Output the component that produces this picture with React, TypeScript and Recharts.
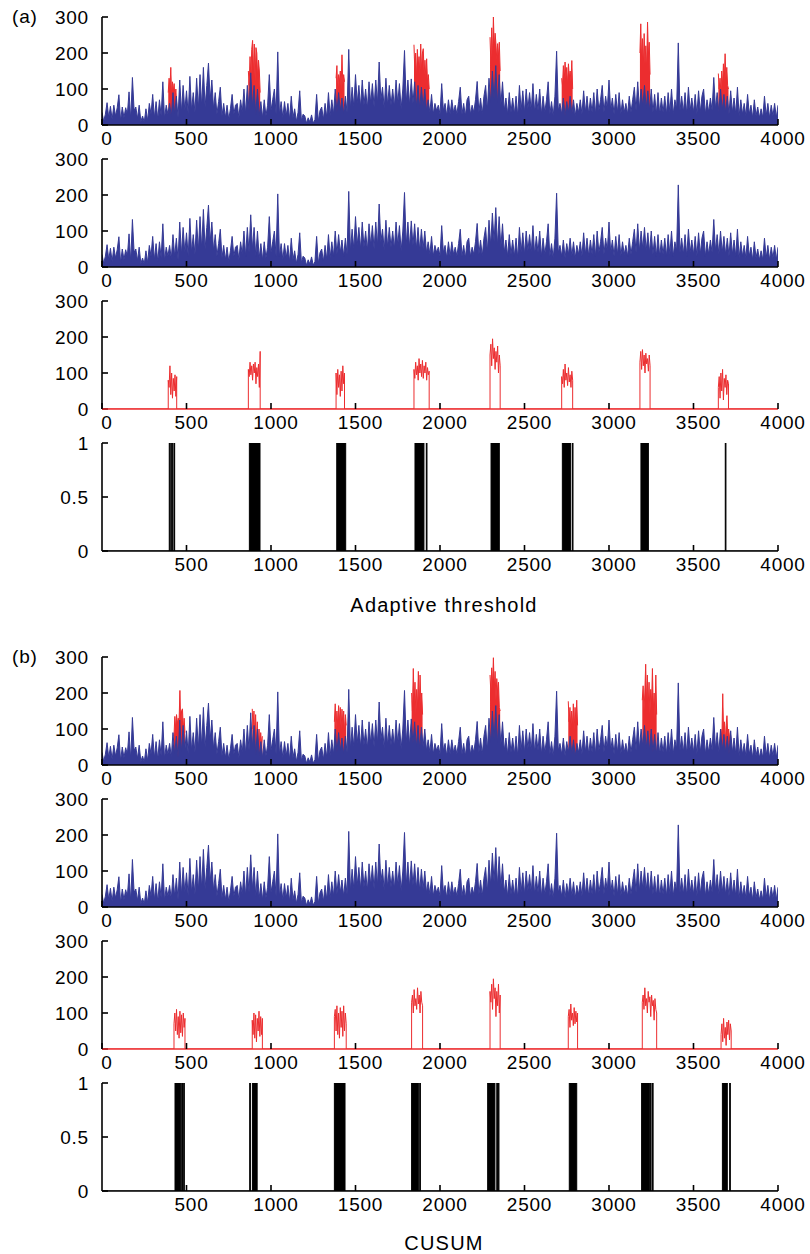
import React from 'react';
import { ComposedChart, Line, Area, XAxis, YAxis } from 'recharts';

// ---------- data ----------
const SIGNAL_STEP = 10;
// Traffic signal (shared by panels 1, 2, 5, 6), one value every 10 samples
const blueSignal: number[] = [
  35, 10, 30, 62, 20, 52, 15, 55, 25, 48,
  84, 12, 50, 20, 48, 30, 92, 15, 132, 40,
  50, 18, 55, 10, 25, 8, 45, 12, 60, 30,
  85, 20, 65, 15, 70, 25, 120, 18, 55, 30,
  60, 22, 90, 30, 80, 20, 125, 35, 110, 40,
  95, 30, 135, 40, 90, 35, 130, 45, 140, 50,
  160, 50, 110, 172, 70, 125, 45, 90, 30, 65,
  105, 25, 60, 20, 55, 15, 45, 85, 30, 55,
  60, 20, 70, 35, 100, 30, 110, 40, 145, 50,
  110, 30, 100, 25, 65, 20, 70, 25, 55, 140,
  40, 70, 100, 30, 203, 30, 65, 20, 65, 25,
  60, 15, 80, 20, 45, 10, 35, 95, 12, 30,
  25, 5, 20, 8, 28, 5, 15, 85, 10, 40,
  50, 15, 60, 20, 90, 25, 70, 30, 100, 35,
  90, 40, 75, 30, 80, 35, 210, 45, 105, 50,
  140, 60, 110, 50, 125, 55, 100, 45, 120, 60,
  115, 50, 125, 60, 175, 70, 105, 45, 130, 55,
  110, 55, 100, 50, 125, 60, 115, 45, 100, 207,
  60, 125, 55, 128, 60, 120, 50, 110, 45, 105,
  50, 100, 40, 70, 35, 85, 30, 60, 40, 55,
  30, 115, 40, 60, 25, 70, 30, 70, 35, 55,
  30, 65, 105, 30, 60, 25, 70, 80, 30, 55,
  35, 70, 121, 35, 75, 30, 80, 110, 40, 130,
  60, 150, 70, 165, 60, 140, 55, 120, 40, 75,
  30, 90, 35, 75, 30, 80, 25, 110, 40, 95,
  35, 100, 45, 90, 40, 115, 35, 85, 40, 100,
  30, 80, 35, 70, 120, 30, 65, 25, 80, 205,
  40, 60, 30, 75, 25, 65, 35, 80, 30, 70,
  25, 60, 35, 70, 30, 95, 35, 80, 30, 75,
  35, 90, 30, 100, 40, 70, 110, 35, 80, 45,
  125, 40, 75, 30, 85, 35, 90, 30, 70, 35,
  60, 30, 80, 35, 70, 105, 40, 120, 45, 100,
  50, 110, 45, 95, 40, 100, 35, 85, 30, 90,
  30, 75, 35, 80, 30, 90, 35, 100, 30, 70,
  45, 228, 40, 80, 35, 90, 30, 105, 40, 75,
  35, 85, 30, 95, 35, 80, 100, 30, 70, 35,
  75, 40, 132, 45, 90, 35, 100, 40, 85, 35,
  80, 30, 95, 35, 75, 30, 105, 25, 70, 30,
  60, 25, 85, 30, 55, 20, 70, 25, 50, 20,
  45, 20, 80, 25, 60, 20, 55, 25, 60, 20,
  55,
];

const WIN_STEP = 5;

// (a) adaptive threshold: anomaly windows
const windowStartsA = [392, 866, 1385, 1846, 2296, 2720, 3183, 3647];
const overlayA: number[][] = [
  [90, 130, 100, 160, 80, 120, 95, 115, 70, 100, 55],
  [150, 110, 190, 130, 210, 235, 140, 225, 120, 215, 200, 130, 180, 150, 90],
  [130, 165, 90, 140, 120, 150, 100, 195, 110, 140, 120],
  [223, 150, 200, 130, 210, 160, 190, 140, 225, 150, 200, 212, 140, 180, 130, 184, 120, 140, 100],
  [244, 170, 270, 190, 300, 215, 255, 226, 180, 226, 190, 230, 150],
  [130, 110, 165, 120, 175, 130, 160, 110, 170, 130, 150, 120, 179, 100],
  [200, 281, 180, 240, 160, 254, 170, 220, 150, 286, 190, 230, 140],
  [143, 100, 130, 90, 150, 110, 170, 120, 198, 130, 160, 110, 100],
];
const anomalyA: number[][] = [
  [80, 60, 120, 40, 100, 30, 85, 50, 95, 35, 90],
  [110, 90, 130, 95, 120, 80, 125, 100, 130, 70, 115, 90, 125, 60, 160],
  [100, 40, 110, 60, 95, 35, 105, 50, 120, 70, 100],
  [110, 85, 130, 95, 120, 80, 140, 100, 125, 90, 135, 85, 120, 100, 130, 80, 115, 95, 105],
  [150, 180, 120, 195, 140, 170, 110, 160, 130, 175, 100, 150, 120],
  [90, 70, 110, 60, 125, 80, 100, 65, 115, 75, 95, 60, 105, 80],
  [130, 160, 110, 165, 120, 150, 100, 155, 125, 140, 105, 150, 120],
  [60, 90, 30, 100, 50, 110, 25, 85, 60, 95, 40, 80, 70],
];
const detectA: [number, number][] = [
  [398, 404], [412, 419], [426, 430], [872, 935], [1389, 1442], [1852, 1905], [1919, 1923],
  [2302, 2351], [2724, 2773], [2783, 2787], [3189, 3233], [3688, 3692],
];

// (b) CUSUM: anomaly windows
const windowStartsB = [426, 889, 1375, 1832, 2296, 2759, 3197, 3663];
const overlayB: number[][] = [
  [80, 135, 100, 140, 115, 130, 120, 207, 110, 150, 156, 100, 130, 90],
  [156, 100, 150, 80, 140, 60, 120, 40, 100, 50, 90, 60, 80],
  [120, 170, 100, 150, 110, 165, 120, 160, 100, 155, 110, 150, 90, 140, 110],
  [200, 150, 268, 170, 230, 140, 210, 160, 260, 150, 250, 170, 200, 140],
  [250, 200, 270, 220, 298, 210, 260, 180, 240, 200, 230, 160, 150],
  [177, 120, 160, 100, 150, 110, 170, 95, 160, 120, 180, 110],
  [180, 220, 150, 200, 280, 170, 250, 160, 230, 140, 210, 170, 268, 150, 200, 130, 250, 140],
  [100, 70, 198, 90, 120, 60, 110, 137, 80, 100, 70, 90, 60],
];
const anomalyB: number[][] = [
  [70, 100, 50, 110, 40, 90, 30, 105, 45, 95, 35, 100, 60, 85],
  [80, 40, 100, 30, 95, 20, 85, 50, 105, 35, 90, 40, 85],
  [90, 110, 50, 120, 40, 100, 30, 115, 60, 105, 35, 120, 50, 100, 70],
  [130, 150, 100, 165, 120, 140, 110, 170, 125, 150, 100, 160, 130, 120],
  [160, 130, 180, 110, 195, 140, 170, 90, 160, 120, 180, 100, 150],
  [90, 110, 60, 125, 80, 100, 65, 115, 70, 105, 75, 100],
  [130, 150, 110, 170, 120, 140, 100, 160, 130, 145, 90, 150, 120, 135, 80, 140, 110, 100],
  [40, 70, 20, 85, 30, 60, 10, 75, 40, 80, 25, 70, 50],
];
const detectB: [number, number][] = [
  [432, 462], [466, 469], [476, 479], [484, 487], [874, 878], [890, 918], [1375, 1438],
  [1832, 1872], [1880, 1884], [2282, 2325], [2336, 2340], [2345, 2349], [2765, 2809],
  [3193, 3239], [3245, 3249], [3257, 3261], [3671, 3700], [3714, 3718],
];

const xTicksFull = [0, 500, 1000, 1500, 2000, 2500, 3000, 3500, 4000];
const xTicksNoZero = [500, 1000, 1500, 2000, 2500, 3000, 3500, 4000];
const xTicksTop = [500, 1000, 1500, 2000, 2500, 3000, 3500];
const yTicksTraffic = [0, 100, 200, 300];
const yTicksBinary = [0, 0.5, 1];

// ---------- table builders ----------
const blueData = blueSignal.map((v, i) => ({ x: i * SIGNAL_STEP, b: v }));

function overlayData(starts: number[], vals: number[][]) {
  const out: { x: number; r: number | null }[] = [];
  starts.forEach((s, k) => {
    vals[k].forEach((v, j) => out.push({ x: s + j * WIN_STEP, r: v }));
    out.push({ x: s + vals[k].length * WIN_STEP, r: null });
  });
  return out;
}
function anomalyData(starts: number[], vals: number[][]) {
  const out: { x: number; r: number }[] = [{ x: 0, r: 0 }];
  starts.forEach((s, k) => {
    out.push({ x: s, r: 0 });
    vals[k].forEach((v, j) => out.push({ x: s + j * WIN_STEP, r: v }));
    out.push({ x: s + (vals[k].length - 1) * WIN_STEP, r: 0 });
  });
  out.push({ x: 4000, r: 0 });
  return out;
}
function detectData(iv: [number, number][]) {
  const out: { x: number; d: number }[] = [{ x: 0, d: 0 }];
  iv.forEach(([s, e]) => {
    out.push({ x: s, d: 1 });
    out.push({ x: e, d: 0 });
  });
  out.push({ x: 4000, d: 0 });
  return out;
}

const BLUE = '#353a96';
const RED = '#ec2d2f';
const FONT = 'Liberation Sans, Arial, Helvetica, sans-serif';
const tickStyle = { fontSize: 19, fill: '#000', fontFamily: FONT, dx: 5, letterSpacing: 0.8 };
const yTickStyle = { fontSize: 19, fill: '#000', fontFamily: FONT, letterSpacing: 0.8 };

function Panel(props: {
  top: number;
  yDomain: [number, number];
  yTicks: number[];
  xTicks: number[];
  bottomLine?: string;
  children: React.ReactNode;
}) {
  const { top, yDomain, yTicks, xTicks, children, bottomLine } = props;
  return (
    <div style={{ position: 'absolute', left: 0, top: top - 10 }}>
      <ComposedChart width={810} height={158} margin={{ top: 10, right: 32, bottom: 10, left: 0 }}>
        <XAxis
          xAxisId="t"
          orientation="top"
          type="number"
          dataKey="x"
          domain={[0, 4000]}
          allowDataOverflow
          ticks={xTicksTop}
          interval={0}
          height={0}
          tickSize={-6}
          tick={false}
          stroke="#000"
          strokeWidth={1.6}
        />
        <YAxis
          yAxisId="l"
          type="number"
          domain={yDomain}
          allowDataOverflow
          ticks={yTicks}
          interval={0}
          width={102}
          tickSize={-6}
          tickMargin={19}
          tick={yTickStyle}
          stroke="#000"
          strokeWidth={1.6}
        />
        <YAxis
          yAxisId="r"
          orientation="right"
          type="number"
          domain={yDomain}
          allowDataOverflow
          ticks={yTicks}
          interval={0}
          width={0}
          tickSize={-6}
          tick={false}
          stroke="#000"
          strokeWidth={1.6}
        />
        <XAxis
          xAxisId="b"
          type="number"
          dataKey="x"
          domain={[0, 4000]}
          allowDataOverflow
          ticks={xTicks}
          interval={0}
          height={30}
          tickSize={-6}
          tickMargin={13}
          tick={tickStyle}
          stroke="#000"
          strokeWidth={1.6}
          axisLine={{ stroke: bottomLine || '#000', strokeWidth: bottomLine ? 1.3 : 1.6 }}
        />
        {children}
      </ComposedChart>
    </div>
  );
}

function TrafficPanel(props: { top: number; overlay?: { x: number; r: number | null }[] }) {
  return (
    <Panel top={props.top} yDomain={[0, 300]} yTicks={yTicksTraffic} xTicks={xTicksFull}>
      {props.overlay ? (
        <Area
          xAxisId="b"
          yAxisId="l"
          data={props.overlay}
          dataKey="r"
          type="linear"
          stroke={RED}
          strokeWidth={1}
          fill={RED}
          fillOpacity={1}
          baseValue={0}
          dot={false}
          activeDot={false}
          connectNulls={false}
          isAnimationActive={false}
        />
      ) : null}
      <Area
        xAxisId="b"
        yAxisId="l"
        data={blueData}
        dataKey="b"
        type="linear"
        stroke={BLUE}
        strokeWidth={1}
        fill={BLUE}
        fillOpacity={1}
        baseValue={0}
        dot={false}
        activeDot={false}
        isAnimationActive={false}
      />
    </Panel>
  );
}

function AnomalyPanel(props: { top: number; data: { x: number; r: number }[] }) {
  return (
    <Panel top={props.top} yDomain={[0, 300]} yTicks={yTicksTraffic} xTicks={xTicksFull} bottomLine={RED}>
      <Line
        xAxisId="b"
        yAxisId="l"
        data={props.data}
        dataKey="r"
        type="linear"
        stroke={RED}
        strokeWidth={1}
        dot={false}
        activeDot={false}
        isAnimationActive={false}
      />
    </Panel>
  );
}

function DetectPanel(props: { top: number; data: { x: number; d: number }[] }) {
  return (
    <Panel top={props.top} yDomain={[0, 1]} yTicks={yTicksBinary} xTicks={xTicksNoZero}>
      <Area
        xAxisId="b"
        yAxisId="l"
        data={props.data}
        dataKey="d"
        type="stepAfter"
        stroke="#000"
        strokeWidth={1}
        fill="#000"
        fillOpacity={1}
        dot={false}
        activeDot={false}
        isAnimationActive={false}
      />
    </Panel>
  );
}

const overlayDataA = overlayData(windowStartsA, overlayA);
const overlayDataB = overlayData(windowStartsB, overlayB);
const anomalyDataA = anomalyData(windowStartsA, anomalyA);
const anomalyDataB = anomalyData(windowStartsB, anomalyB);
const detectDataA = detectData(detectA);
const detectDataB = detectData(detectB);

export default function App() {
  return (
    <div
      style={{
        position: 'absolute',
        left: 0,
        top: 0,
        width: 810,
        height: 1254,
        background: '#fff',
        overflow: 'hidden',
      }}
    >
      <TrafficPanel top={17} overlay={overlayDataA} />
      <TrafficPanel top={159} />
      <AnomalyPanel top={301} data={anomalyDataA} />
      <DetectPanel top={443} data={detectDataA} />
      <TrafficPanel top={657} overlay={overlayDataB} />
      <TrafficPanel top={799} />
      <AnomalyPanel top={941} data={anomalyDataB} />
      <DetectPanel top={1083} data={detectDataB} />
      <svg
        width={810}
        height={1254}
        style={{ position: 'absolute', left: 0, top: 0, pointerEvents: 'none' }}
      >
        <text x={12} y={23} fontSize={19} fontFamily={FONT} fill="#000" letterSpacing={0.8}>(a)</text>
        <text x={12} y={663} fontSize={19} fontFamily={FONT} fill="#000" letterSpacing={0.8}>(b)</text>
        <text x={444} y={612} fontSize={20} fontFamily={FONT} fill="#000" textAnchor="middle" letterSpacing={1.2}>
          Adaptive threshold
        </text>
        <text x={444} y={1250} fontSize={20} fontFamily={FONT} fill="#000" textAnchor="middle" letterSpacing={1.2}>
          CUSUM
        </text>
      </svg>
    </div>
  );
}
